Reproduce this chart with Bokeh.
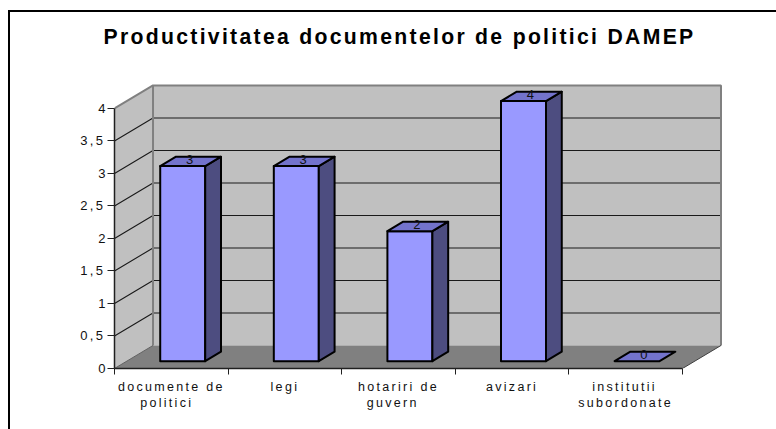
from bokeh.plotting import figure
from bokeh.embed import file_html
from bokeh.resources import INLINE
from bokeh.models import FixedTicker, LinearAxis, Range1d
from bokeh.core.properties import value

title = "Productivitatea documentelor de politici DAMEP"
categories = ["documente de\npolitici", "legi", "hotariri de\nguvern", "avizari", "institutii\nsubordonate"]
values = [3, 3, 2, 4, 0]
y_ticks = [0, 0.5, 1, 1.5, 2, 2.5, 3, 3.5, 4]
y_tick_labels = ["0", "0,5", "1", "1,5", "2", "2,5", "3", "3,5", "4"]

# oblique projection of the 3D box: one depth unit, in data units
DX, DY = 0.339, 0.354
BAR_W, D0, D1, BAR_SHIFT = 0.396, 0.32, 0.73, -0.008
WALL, FLOOR = "#C0C0C0", "#808080"
FRONT, TOP, SIDE = "#9999FF", "#7373CC", "#4D4D80"
FONT = "Liberation Sans"
SPACING = 2.3   # letter spacing of the page's text, px
PX_PER_X = 113.6
n = len(categories)
ymax = y_ticks[-1]

def pr(x, y, d):
    return x + d * DX, y + d * DY

def poly(pts):
    xy = [pr(*q) for q in pts]
    return [a for a, _ in xy], [b for _, b in xy]

line = "linear-gradient(#000,#000)"
p = figure(width=776, height=429, output_backend="svg", toolbar_location=None,
           x_range=Range1d(0, 5.37), y_range=Range1d(0, 4.892),
           x_axis_location=None, y_axis_location=None,
           min_border_left=114, min_border_right=52, min_border_top=50, min_border_bottom=61,
           background_fill_color="white", border_fill_color=None, outline_line_color=None,
           styles={"letter-spacing": f"{SPACING}px",
                   "background-color": "white",
                   "background-image": f"{line},{line}",
                   "background-position": "8px 10px,8px 10px",
                   "background-size": "100% 2px,2px 100%",
                   "background-repeat": "no-repeat"})
p.grid.visible = False

# walls and floor
xs, ys = poly([(0, 0, 0), (0, ymax, 0), (0, ymax, 1), (0, 0, 1)])
p.patch(xs, ys, fill_color=WALL, line_color=None)
xs, ys = poly([(0, 0, 1), (0, ymax, 1), (n, ymax, 1), (n, 0, 1)])
p.patch(xs, ys, fill_color=WALL, line_color=None)
xs, ys = poly([(0, 0, 0), (n, 0, 0), (n, 0, 1), (0, 0, 1)])
p.patch(xs, ys, fill_color=FLOOR, line_color=None)

# gridlines on both walls
for t in y_ticks[1:-1]:
    xs, ys = poly([(0, t, 0), (0, t, 1), (n, t, 1)])
    p.line(xs, ys, line_color="#1a1a1a", line_width=1.1)

# wall edges
xs, ys = poly([(0, ymax, 0), (0, ymax, 1), (n, ymax, 1), (n, 0, 1)])
p.line(xs, ys, line_color=FLOOR, line_width=2)
xs, ys = poly([(0, ymax, 1), (0, 0, 1)])
p.line(xs, ys, line_color=FLOOR, line_width=2)
xs, ys = poly([(n, 0, 0), (n, 0, 1)])
p.line(xs, ys, line_color="#404040", line_width=1)
xs, ys = poly([(0, 0, 0), (0, 0, 1)])
p.line(xs, ys, line_color="#606060", line_width=1)

# bars
for i, v in enumerate(values):
    c = i + 0.5 + BAR_SHIFT
    l, r = c - BAR_W / 2, c + BAR_W / 2
    if v > 0:
        xs, ys = poly([(l, 0, D0), (r, 0, D0), (r, v, D0), (l, v, D0)])
        p.patch(xs, ys, fill_color=FRONT, line_color="black", line_width=2, line_join="round")
        xs, ys = poly([(r, 0, D0), (r, 0, D1), (r, v, D1), (r, v, D0)])
        p.patch(xs, ys, fill_color=SIDE, line_color="black", line_width=2, line_join="round")
    xs, ys = poly([(l, v, D0), (r, v, D0), (r, v, D1), (l, v, D1)])
    p.patch(xs, ys, fill_color=TOP, line_color="black", line_width=2, line_join="round")
    cx, cy = pr(c, v, (D0 + D1) / 2)
    p.text([cx], [cy], text=[str(v)], text_font=value(FONT), text_font_size="13px",
           text_align="center", text_baseline="middle", text_color="#111111",
           x_offset=-1, y_offset=-2)

# axes
ax_y = LinearAxis(ticker=FixedTicker(ticks=y_ticks), bounds=(0, ymax))
# two trailing spaces are measured but not drawn: they offset the letter spacing's overflow
ax_y.major_label_overrides = {t: (s + "  " if "," in s else s) for t, s in zip(y_ticks, y_tick_labels)}
ax_y.major_label_text_font = FONT
ax_y.major_label_text_font_size = "13px"
ax_y.major_label_text_color = "#111111"
ax_y.major_label_standoff = 2
ax_y.major_tick_out = 7
ax_y.major_tick_in = 0
ax_y.minor_tick_line_color = None
ax_y.axis_line_color = "#202020"
ax_y.axis_line_width = 1.5
ax_y.major_tick_line_color = "#202020"
p.add_layout(ax_y, "left")

# label anchors are moved left by half the letter spacing's overflow, so the drawn text is centred
def label_pos(i, s):
    longest = max(len(x) for x in s.split("\n"))
    return i + 0.5 - longest * SPACING / 2 / PX_PER_X

centers = [label_pos(i, s) for i, s in enumerate(categories)]
ax_x = LinearAxis(ticker=FixedTicker(ticks=centers, minor_ticks=list(range(n + 1))), bounds=(0, n))
ax_x.major_label_overrides = {c: s for c, s in zip(centers, categories)}
ax_x.major_label_text_font = FONT
ax_x.major_label_text_font_size = "12.5px"
ax_x.major_label_text_color = "#111111"
ax_x.major_label_standoff = 5
ax_x.major_tick_line_color = None
ax_x.minor_tick_out = 6
ax_x.minor_tick_in = 0
ax_x.minor_tick_line_color = "#202020"
ax_x.axis_line_color = "#202020"
ax_x.axis_line_width = 1.5
p.add_layout(ax_x, "below")

p.title.text = title
p.title.text_font = FONT
p.title.text_font_style = "bold"
p.title.text_font_size = "21.2px"
p.title.text_color = "black"
p.title.align = "left"
p.title.vertical_align = "top"
p.title.offset = -11
p.title.standoff = 2

open("out.html", "w").write(file_html(p, INLINE))
